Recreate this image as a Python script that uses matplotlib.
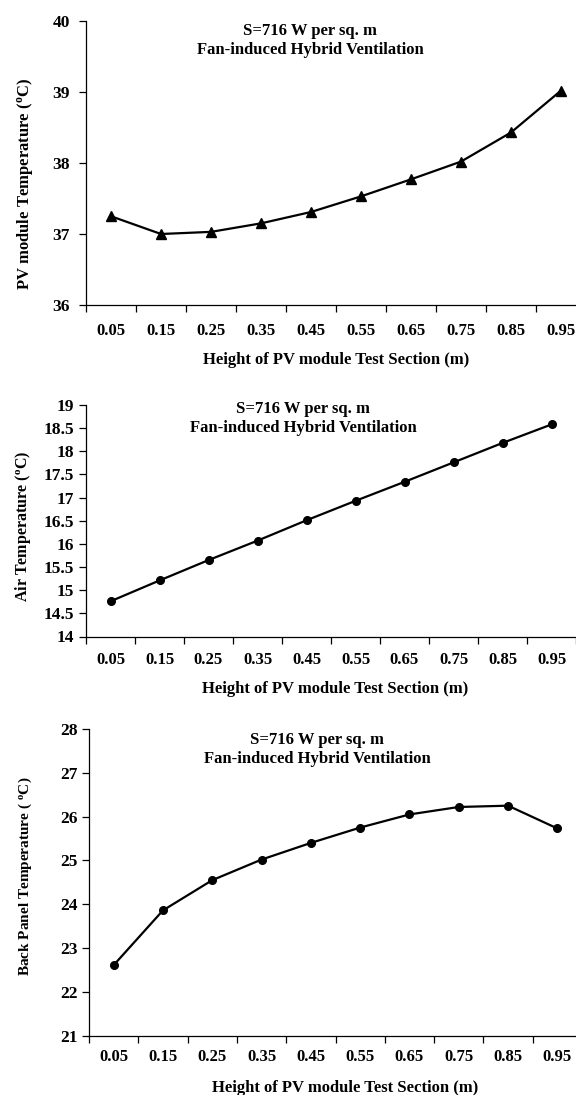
import numpy as np
import matplotlib.pyplot as plt

#%% data
heights = ['0.05', '0.15', '0.25', '0.35', '0.45', '0.55', '0.65', '0.75', '0.85', '0.95']

pv_temp = [37.25, 37.0, 37.03, 37.15, 37.31, 37.53, 37.77, 38.02, 38.43, 39.02]
air_temp = [14.76, 15.21, 15.65, 16.07, 16.51, 16.93, 17.34, 17.76, 18.18, 18.58]
back_temp = [22.61, 23.86, 24.55, 25.02, 25.40, 25.75, 26.05, 26.22, 26.25, 25.73]

pv_ticks = [36, 37, 38, 39, 40]
air_ticks = [14, 14.5, 15, 15.5, 16, 16.5, 17, 17.5, 18, 18.5, 19]
back_ticks = [21, 22, 23, 24, 25, 26, 27, 28]

title = "S=716 W per sq. m\nFan-induced Hybrid Ventilation"
xlab = "Height of PV module Test Section (m)"

#%% style
plt.rcParams['font.family'] = ['Liberation Serif', 'DejaVu Serif']
plt.rcParams['font.weight'] = 'bold'
plt.rcParams['mathtext.fontset'] = 'custom'
plt.rcParams['mathtext.rm'] = 'Liberation Serif:bold'
plt.rcParams['mathtext.bf'] = 'Liberation Serif:bold'
plt.rcParams['mathtext.it'] = 'Liberation Serif:bold'

fig = plt.figure(figsize=(5.76, 10.95), dpi=100)
W, H = 576, 1095


def panel(box, values, yticks, ylab, ylab_size, marker, ms, tpad, title_xy, ylab_xy, xlab_xy, ypad):
    left, top, right, bottom = box
    ax = fig.add_axes([left / W, 1 - bottom / H, (right - left) / W, (bottom - top) / H])
    x = np.arange(len(values))
    ax.plot(x, values, color='black', lw=1.6, marker=marker, ms=ms)
    ax.set_xlim(-0.5, len(values) - 0.5)
    ax.set_ylim(yticks[0], yticks[-1])
    ax.set_yticks(yticks)
    ax.set_yticklabels([f"{t:g}" for t in yticks])
    ax.set_xticks(x)
    ax.set_xticklabels(heights)
    ax.set_xticks(np.arange(len(values) + 1) - 0.5, minor=True)
    ax.tick_params(axis='x', which='major', length=0, pad=tpad, labelsize=12)
    ax.tick_params(axis='x', which='minor', length=5, width=0.9, direction='out')
    ax.tick_params(axis='y', length=5, width=0.9, direction='out', pad=ypad, labelsize=12.5)
    for lab in ax.get_xticklabels():
        lab.set_va('center')
    for s in ['top', 'right']:
        ax.spines[s].set_visible(False)
    for s in ['left', 'bottom']:
        ax.spines[s].set_linewidth(0.9)
    ax.set_ylabel(ylab, fontsize=ylab_size, fontweight='bold')
    ax.yaxis.label.set_va('center')
    ax.yaxis.set_label_coords(*ylab_xy)
    ax.set_xlabel(xlab, fontsize=12, fontweight='bold')
    ax.xaxis.label.set_va('center')
    ax.xaxis.set_label_coords(*xlab_xy)
    ax.text(title_xy[0], title_xy[1], title, transform=ax.transAxes, ha='center', va='center',
            fontsize=12, fontweight='bold', linespacing=1.25)
    return ax


#%% PV module temperature
panel((86, 21, 586, 305), pv_temp, pv_ticks, r"PV module Temperature ($^{o}$C)", 12, '^', 6.5, 18.7,
      (0.448, 0.93), (-0.122, 0.426), (0.5, -0.194), 6.5)

#%% air temperature
panel((86, 405, 576, 636.5), air_temp, air_ticks, r"Air Temperature ($^{o}$C)", 11.5, 'o', 5.5, 16.9,
      (0.443, 0.941), (-0.1286, 0.478), (0.508, -0.227), 3.6)

#%% back panel temperature
panel((89, 729, 582, 1035.7), back_temp, back_ticks, r"Back Panel Temperature ( $^{o}$C)", 11, 'o', 5.5, 15.3,
      (0.4625, 0.933), (-0.13, 0.521), (0.519, -0.1705), 3.2)

plt.savefig('out.png', dpi=100)
